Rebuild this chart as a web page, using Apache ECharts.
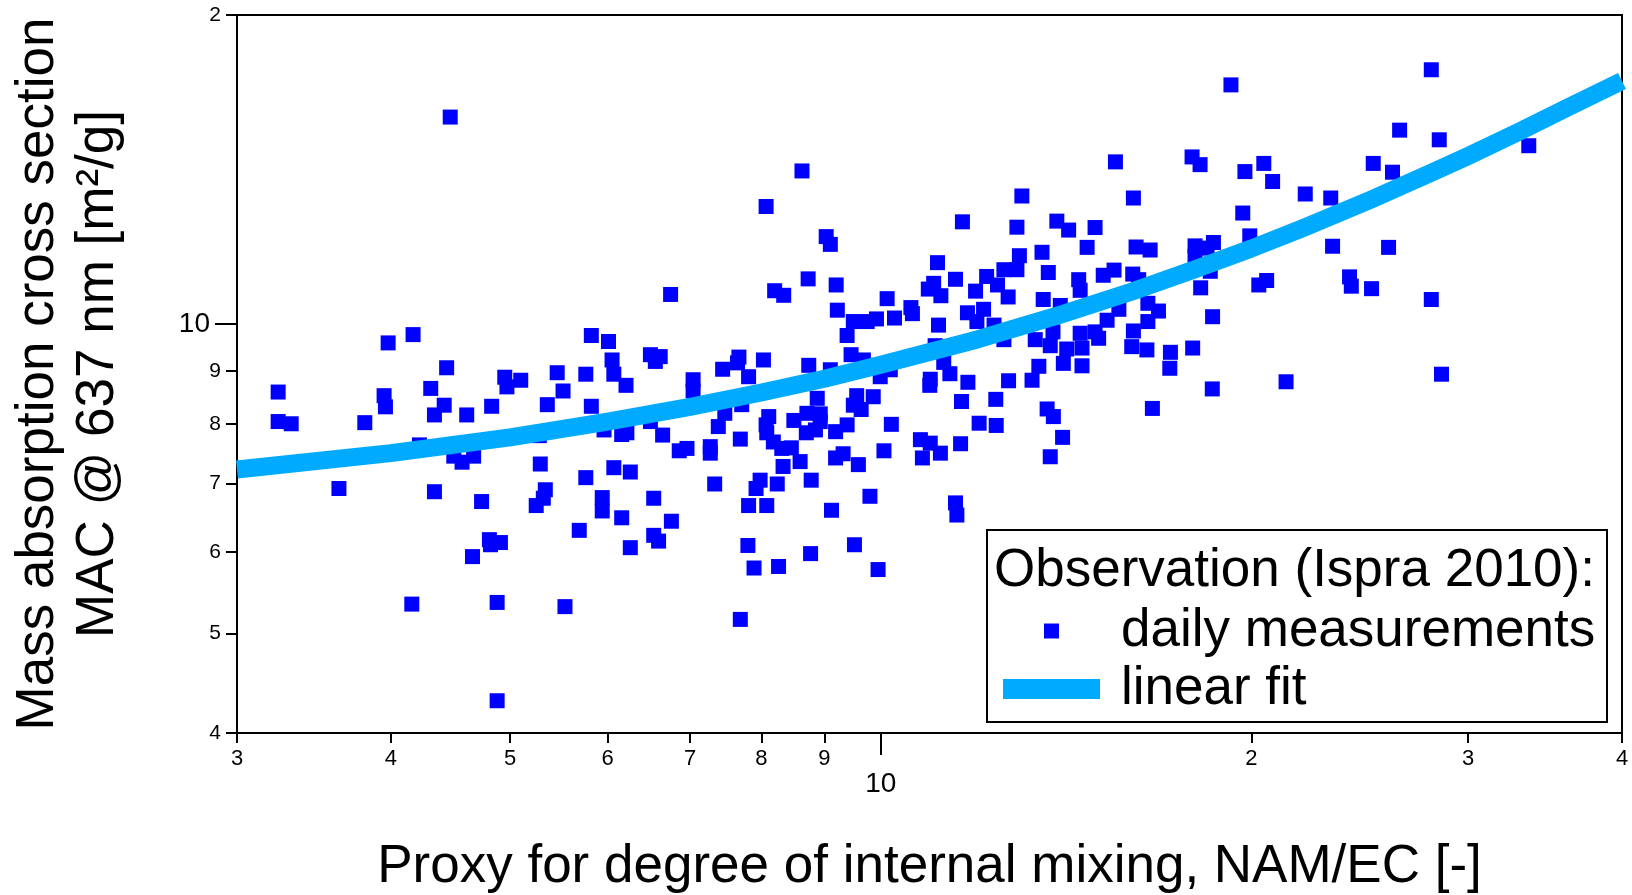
<!DOCTYPE html>
<html><head><meta charset="utf-8">
<script src="https://cdn.jsdelivr.net/npm/echarts@6/dist/echarts.min.js"></script>
<style>html,body{margin:0;padding:0;background:#fff}#chart{width:1632px;height:895px}</style>
</head><body><div id="chart"></div>
<script>
const obsX = [3.24,3.24,3.32,3.63,3.81,3.95,3.96,3.98,4.17,4.16,4.22,4.31,4.34,4.34,4.42,4.44,4.47,4.50,4.57,4.61,4.66,4.67,4.74,4.81,4.82,4.83,4.88,4.88,4.91,4.95,4.97,5.10,5.25,5.28,5.29,5.34,5.32,5.36,5.46,5.52,5.54,5.69,5.76,5.76,5.82,5.82,5.94,5.94,5.96,6.01,6.05,6.07,6.07,6.16,6.16,6.21,6.22,6.26,6.26,6.50,6.56,6.62,6.50,6.54,6.54,6.60,6.65,6.75,6.76,6.86,6.96,7.04,7.04,7.27,7.27,7.33,7.38,7.44,7.47,7.67,7.65,7.69,7.69,7.71,7.80,7.81,7.81,7.89,7.92,7.98,8.03,8.07,8.08,8.07,8.11,8.08,8.18,8.20,8.24,8.26,8.31,8.33,8.34,8.46,8.50,8.60,8.63,8.70,8.71,8.73,8.74,8.77,8.78,8.85,8.88,8.93,8.93,9.03,9.10,9.10,9.12,9.19,9.20,9.19,9.22,9.32,9.39,9.39,9.46,9.50,9.52,9.56,9.50,9.64,9.59,9.68,9.75,9.80,9.86,9.92,9.95,9.99,10.06,10.12,10.18,10.20,10.26,10.58,10.61,10.77,10.81,10.93,10.96,10.97,10.97,11.04,11.07,11.12,11.14,11.19,11.18,11.25,11.38,11.50,11.50,11.53,11.61,11.63,11.65,11.76,11.77,11.94,11.97,12.02,12.12,12.19,12.36,12.40,12.41,12.59,12.44,12.59,12.90,12.69,12.70,12.90,12.96,13.02,13.27,13.35,13.44,13.52,13.55,13.65,13.68,13.73,13.73,13.80,13.81,13.90,13.99,14.05,14.07,14.16,14.21,14.48,14.52,14.52,14.57,14.57,14.71,14.93,14.93,15.03,15.16,15.27,15.47,15.51,15.61,15.99,16.02,16.04,16.04,16.12,16.20,16.48,16.45,16.48,16.55,16.62,16.81,17.19,17.17,17.90,17.92,18.00,18.00,18.17,18.19,18.41,18.52,18.60,18.63,18.59,19.25,19.68,19.76,19.94,20.28,20.47,20.58,20.81,21.34,22.12,23.20,23.28,24.03,24.11,25.04,25.12,25.85,26.04,26.39,28.00,28.00,28.42,28.54,33.60];
const obsY = [8.59,8.04,8.00,6.92,8.02,8.52,8.31,9.59,9.77,5.34,7.63,8.66,8.16,6.87,8.34,9.07,15.91,7.44,7.34,8.16,5.94,7.44,6.72,6.17,6.10,8.32,4.30,5.36,6.13,8.88,8.69,8.82,6.66,7.79,7.31,6.90,6.77,8.35,8.97,8.61,5.31,6.30,7.09,8.94,8.32,9.75,6.78,6.58,7.89,9.62,9.23,8.94,7.25,6.48,7.81,8.72,7.84,7.18,6.06,9.34,9.20,9.30,8.04,6.77,6.23,6.15,7.80,10.69,6.43,7.53,7.57,8.83,8.61,7.60,7.49,6.99,7.95,9.04,8.19,9.29,9.17,7.73,5.16,8.35,6.09,8.89,6.66,5.79,6.92,7.05,9.23,13.02,6.66,7.98,8.13,7.84,7.68,10.78,6.99,5.81,7.57,7.27,10.67,7.58,8.06,7.35,14.10,7.84,8.19,11.07,9.12,5.98,7.05,7.89,8.47,8.18,8.04,12.17,11.96,9.03,6.59,7.86,10.92,7.41,10.32,7.48,9.75,7.98,9.34,10.06,6.10,8.52,8.34,8.26,7.30,9.23,10.06,6.80,8.50,10.12,5.77,8.89,7.53,10.59,9.03,7.99,10.14,10.38,10.24,7.72,7.41,10.82,8.72,7.66,8.84,10.96,9.53,11.48,9.98,10.66,7.49,9.18,8.95,11.06,6.70,6.52,7.65,8.41,12.58,10.26,8.78,10.77,10.06,8.01,10.34,11.13,9.98,8.45,7.97,11.30,10.92,9.66,11.30,10.63,8.81,12.43,11.66,13.33,8.82,9.66,9.10,11.75,10.57,8.27,11.23,9.53,7.43,9.83,8.13,12.60,10.43,7.76,9.16,9.46,12.35,11.05,10.79,9.80,9.48,9.11,11.88,12.42,9.83,9.69,11.16,10.09,11.29,14.39,10.34,9.51,11.19,13.27,9.85,11.89,11.05,10.48,9.44,10.06,11.81,8.28,10.30,9.39,9.06,14.55,9.48,11.92,11.64,14.30,10.85,11.86,11.26,10.17,12.01,8.65,17.10,12.83,14.08,12.19,10.92,14.34,11.03,13.77,8.79,13.39,13.27,11.91,11.12,10.89,10.83,14.34,11.88,14.06,15.45,17.69,10.57,15.12,8.94,14.92];
const fitX = [3,4,5,6,7,8,9,10,12,14,16,18,20,22,25,28,30,33,36,40];
const fitY = [7.22,7.49,7.76,8.04,8.31,8.58,8.85,9.13,9.67,10.22,10.76,11.31,11.85,12.40,13.22,14.04,14.58,15.40,16.22,17.25];
const xMinorTicks = [3,4,5,6,7,8,9,20,30,40];
const xMinorLabels = ['3','4','5','6','7','8','9','2','3','4'];
const xMajorTicks = [10];
const xMajorLabels = ['10'];
const yLabelTicks = [4,5,6,7,8,9,10,20];
const yLabels = ['4','5','6','7','8','9','10','2'];
const yMinorTicks = [4,5,6,7,8,9,20];
const yMajorTicks = [10];

const FONT = 'Liberation Sans, Arial, sans-serif';
function nearestIndex(ticks, v) {
  let best = 0, d = Infinity;
  ticks.forEach((t, i) => { const dd = Math.abs(Math.log(t) - Math.log(v)); if (dd < d) { d = dd; best = i; } });
  return best;
}
function baseAxis(min, max, extra) {
  return Object.assign({
    type: 'log', logBase: 10, min: min, max: max,
    splitLine: { show: false }, minorTick: { show: false }, minorSplitLine: { show: false }
  }, extra);
}
const tickStyle = { color: '#000', width: 2 };

const chart = echarts.init(document.getElementById('chart'), null, { renderer: 'canvas' });
chart.setOption({
  animation: false,
  backgroundColor: '#fff',
  grid: { left: 237, right: 10, top: 15, bottom: 162, show: true, borderColor: '#000', borderWidth: 2,
    backgroundColor: 'transparent', containLabel: false, outerBoundsMode: 'none' },
  xAxis: [
    baseAxis(3, 40, {
      position: 'bottom',
      axisLine: { show: true, onZero: false, lineStyle: { color: '#000', width: 2 } },
      axisTick: { show: true, customValues: xMinorTicks, length: 10, lineStyle: tickStyle },
      axisLabel: { customValues: xMinorTicks, formatter: v => xMinorLabels[nearestIndex(xMinorTicks, v)],
        fontSize: 22, color: '#000', fontFamily: FONT, margin: 15 }
    }),
    baseAxis(3, 40, {
      position: 'bottom',
      axisLine: { show: false },
      axisTick: { show: true, customValues: xMajorTicks, length: 22, lineStyle: tickStyle },
      axisLabel: { customValues: xMajorTicks, formatter: v => xMajorLabels[nearestIndex(xMajorTicks, v)],
        fontSize: 28, color: '#000', fontFamily: FONT, margin: 37 },
      name: 'Proxy for degree of internal mixing, NAM/EC [-]', nameLocation: 'middle', nameGap: 104,
      nameTextStyle: { fontSize: 53, color: '#000', fontFamily: FONT, lineHeight: 60 }
    })
  ],
  yAxis: [
    baseAxis(4, 20, {
      position: 'left',
      axisLine: { show: true, onZero: false, lineStyle: { color: '#000', width: 2 } },
      axisTick: { show: true, customValues: yMinorTicks, length: 11, lineStyle: tickStyle },
      axisLabel: { customValues: yLabelTicks, color: '#000', fontFamily: FONT, fontSize: 21, margin: 16,
        formatter: v => { const i = nearestIndex(yLabelTicks, v); const t = yLabels[i]; return yLabelTicks[i] === 10 ? '{maj|' + t + '}' : '{mn|' + t + '}'; },
        rich: { mn: { fontSize: 21, fontFamily: FONT, color: '#000' },
                maj: { fontSize: 28, fontFamily: FONT, color: '#000', padding: [0, 11, 0, 0] } } }
    }),
    baseAxis(4, 20, {
      position: 'left',
      axisLine: { show: false },
      axisTick: { show: true, customValues: yMajorTicks, length: 22, lineStyle: tickStyle },
      axisLabel: { show: false },
      name: 'Mass absorption cross section\nMAC @ 637 nm [m²/g]', nameLocation: 'middle', nameGap: 109,
      nameTextStyle: { fontSize: 53, color: '#000', fontFamily: FONT, lineHeight: 60 }
    })
  ],
  legend: [
    { data: [{ name: 'daily measurements', icon: 'rect' }], left: 1044, top: 602, padding: 0, itemWidth: 15, itemHeight: 15, selectedMode: false, z: 6,
      textStyle: { fontSize: 53, color: '#000', fontFamily: FONT, lineHeight: 58, padding: [0, 0, 0, 57] } },
    { data: [{ name: 'linear fit', icon: 'rect' }], left: 1003, top: 660, padding: 0, itemWidth: 97, itemHeight: 20, selectedMode: false, z: 6,
      textStyle: { fontSize: 53, color: '#000', fontFamily: FONT, lineHeight: 58, padding: [0, 0, 0, 16] } }
  ],
  graphic: [
    { type: 'rect', z: 4, shape: { x: 987, y: 530, width: 620, height: 192 }, style: { fill: '#fff', stroke: '#000', lineWidth: 2 } },
    { type: 'text', z: 6, x: 994, y: 571, style: { text: 'Observation (Ispra 2010):', fontSize: 53, fontFamily: FONT, fill: '#000', verticalAlign: 'middle' } }
  ],
  series: [
    { name: 'daily measurements', type: 'scatter', xAxisIndex: 0, yAxisIndex: 0, symbol: 'rect', symbolSize: 15,
      itemStyle: { color: '#0000ff', opacity: 1 }, data: obsX.map((x, i) => [x, obsY[i]]), z: 2 },
    { name: 'linear fit', type: 'line', xAxisIndex: 0, yAxisIndex: 0, showSymbol: false, symbol: 'none', smooth: false,
      itemStyle: { color: '#00aaff' }, lineStyle: { color: '#00aaff', width: 18, cap: 'butt', join: 'round', opacity: 1 },
      data: fitX.map((x, i) => [x, fitY[i]]), z: 3 }
  ]
});
</script></body></html>
